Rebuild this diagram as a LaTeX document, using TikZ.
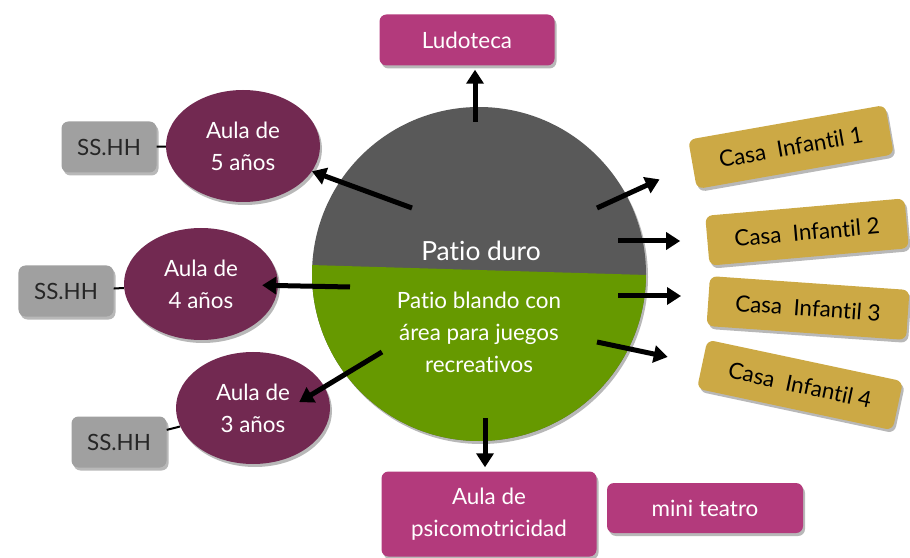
\documentclass[tikz,border=0pt]{standalone}
\usepackage{fontspec}
\setmainfont[Ligatures={NoCommon}]{Lato}
\usetikzlibrary{arrows.meta,shadows,calc,shapes.geometric}
\definecolor{cgray}{HTML}{595959}
\definecolor{cgreen}{HTML}{669900}
\definecolor{cmag}{HTML}{B33A7C}
\definecolor{cplum}{HTML}{722951}
\definecolor{cssh}{HTML}{A0A0A0}
\definecolor{cgold}{HTML}{CCA945}
\begin{document}
\begin{tikzpicture}[x=1bp,y=-1bp,
  shad/.style={drop shadow={shadow xshift=2bp,shadow yshift=-3bp,opacity=0.28,fill=black}},
  txt/.style={font=\fontsize{22.5}{32}\selectfont,align=center,inner sep=0pt},
  magbox/.style={txt,shad,fill=cmag,text=white,rounded corners=7bp},
  aula/.style={txt,shad,ellipse,fill=cplum,text=white,minimum width=154bp,minimum height=112bp},
  ssbox/.style={txt,shad,fill=cssh,text=black!85,rounded corners=7bp,minimum width=95bp,minimum height=51bp},
  casa/.style={txt,shad,fill=cgold,text=black,rounded corners=7bp,minimum width=200bp,minimum height=50bp},
  arr/.style={line width=5bp,-{Triangle[length=14bp,width=17bp]}},
  link/.style={line width=2bp}]
\useasboundingbox (0,0) rectangle (910,558);
% central circle
\fill[cgray,shad] (479,274) circle (167);
\begin{scope}
  \clip (479,274) circle (167);
  \fill[cgreen] (300,264.7) -- (660,275.4) -- (660,460) -- (300,460) -- cycle;
\end{scope}
\node[txt,text=white,font=\fontsize{26.5}{30}\selectfont] (duro) at (481,251) {Patio duro};
\node[txt,text=white] (blando) at (479,332) {Patio blando con\\área para juegos\\recreativos};
% top / bottom boxes
\node[magbox,minimum width=175bp,minimum height=51bp] (lud) at (467,40) {Ludoteca};
\node[magbox,minimum width=215bp,minimum height=85bp] (psi) at (489,514) {Aula de\\psicomotricidad};
\node[magbox,minimum width=196bp,minimum height=50bp] (mini) at (705,508) {mini teatro};
% aulas
\node[aula] (a5) at (243,146) {Aula de\\5 años};
\node[aula] (a4) at (201,284) {Aula de\\4 años};
\node[aula] (a3) at (253,408) {Aula de\\3 años};
\node[ssbox] (ss5) at (109,147) {SS.HH};
\node[ssbox] (ss4) at (66,291) {SS.HH};
\node[ssbox] (ss3) at (119,442) {SS.HH};
\draw[link] (ss5) -- (a5);
\draw[link] (ss4) -- (a4);
\draw[link] (ss3) -- (a3);
% casas
\node[casa,rotate=10] (k1) at (791,147) {Casa\ \ Infantil 1};
\node[casa,rotate=5] (k2) at (807,232) {Casa\ \ Infantil 2};
\node[casa,rotate=-4] (k3) at (808,308) {Casa\ \ Infantil 3};
\node[casa,rotate=-12] (k4) at (800,385) {Casa\ \ Infantil 4};
% arrow starts
\coordinate (sL) at (475,122);
\coordinate (sP) at (485,418);
\coordinate (s5) at (412,208);
\coordinate (s4) at (350,287);
\coordinate (s3) at (382,352);
\coordinate (c1) at (597,208);
\coordinate (c2) at (618,241);
\coordinate (c3) at (618,296);
\coordinate (c4) at (597,342);
% arrows
\draw[arr,shorten >=4bp] (sL) -- (sL |- lud.south);
\draw[arr,shorten >=4bp] (sP) -- (sP |- psi.north);
\draw[arr] (s5) -- (a5);
\draw[arr,shorten >=-16bp] (s4) -- (a4);
\draw[arr,shorten >=54bp] (s3) -- ($(a3.center)+(0,22)$);
\draw[arr,shorten >=36bp] (c1) -- (k1.west);
\draw[arr,shorten >=27bp] (c2) -- (c2 -| k2.west);
\draw[arr,shorten >=27bp] (c3) -- (c3 -| k3.west);
\draw[arr,shorten >=35bp] (c4) -- (k4.west);
\end{tikzpicture}
\end{document}
